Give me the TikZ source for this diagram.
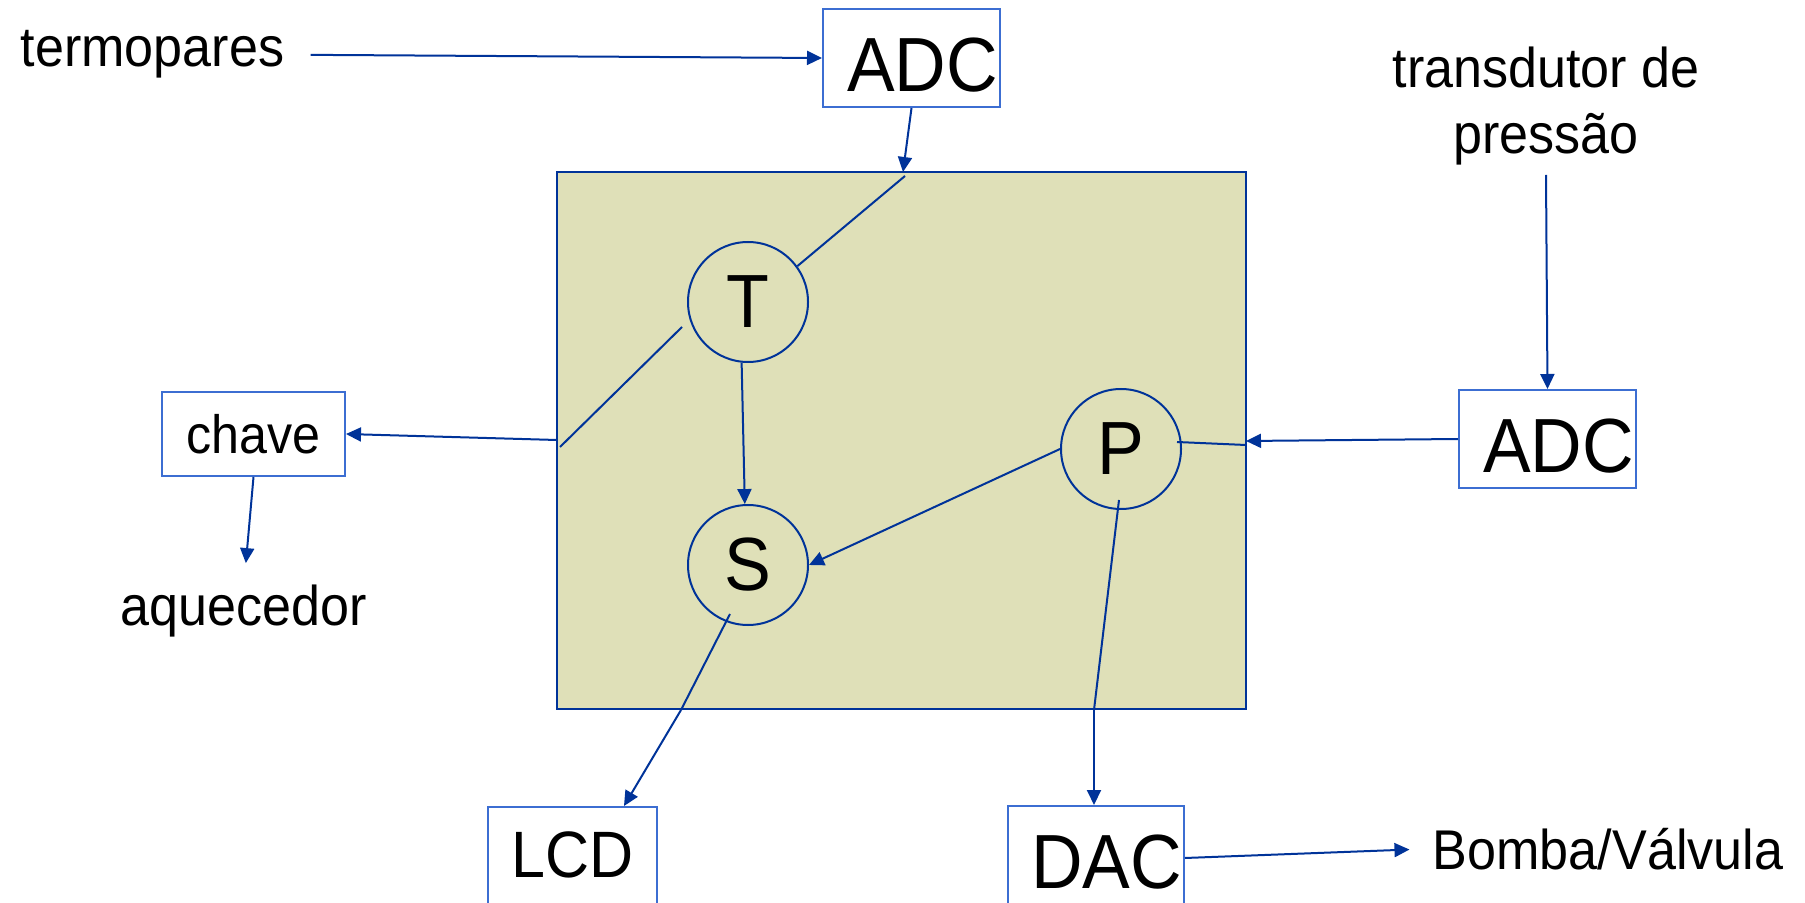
\documentclass[tikz,border=0pt]{standalone}
\usepackage{fontspec}
\setmainfont[FakeStretch=0.93]{Liberation Sans}
\usetikzlibrary{arrows.meta}
\definecolor{lineblue}{RGB}{0,51,153}
\definecolor{boxblue}{RGB}{60,110,210}
\definecolor{cpufill}{RGB}{223,224,184}
\begin{document}
\begin{tikzpicture}[x=0.5pt,y=-0.5pt,
  conn/.style={draw=lineblue, line width=1pt},
  arr/.style={conn, -{Triangle[length=7.5pt,width=7pt]}},
  lbl/.style={inner sep=0pt, font=\fontsize{28}{28.5}\selectfont},
  adcbox/.style={draw=boxblue, line width=1pt, fill=white, font=\fontsize{38.4}{40}\selectfont,
     text width=86.5pt, align=right, inner xsep=1pt, inner ysep=0pt,
     minimum height=49pt, text height=34pt, text depth=0pt},
  dacbox/.style={adcbox, text width=86pt, minimum height=52pt, text height=30pt},
  lcdbox/.style={draw=boxblue, line width=1pt, fill=white, font=\fontsize{32.8}{36}\selectfont,
     minimum width=84.5pt, minimum height=52pt, text depth=4.5pt, inner sep=0pt},
  chavebox/.style={draw=boxblue, line width=1pt, fill=white, font=\fontsize{27}{30}\selectfont,
     minimum width=91.5pt, minimum height=42pt, inner sep=0pt},
  state/.style={circle, draw=lineblue, line width=1pt, minimum size=60pt, inner sep=0pt,
     font=\fontsize{37.7}{40}\selectfont},
  cpu/.style={draw=lineblue, line width=1.2pt, fill=cpufill, minimum width=344.5pt,
     minimum height=268.5pt, inner sep=0pt}]
\useasboundingbox (0,0) rectangle (1805,903);
\clip (0,0) rectangle (1805,903);

% central block and states
\node[cpu] (cpu) at (901.5,440.5) {};
\node[state] (T) at (748,302) {T};
\node[state] (S) at (748,565) {S};
\node[state] (P) at (1121,449) {P};

% outer nodes
\node[lbl, anchor=base] (termo) at (152.5,67) {termopares};
\node[adcbox] (adc1) at (911.5,58) {ADC};
\node[adcbox] (adc2) at (1547.5,439) {ADC};
\node[lbl, anchor=north, align=center] (trans) at (1546,47) {transdutor de\\[4.5pt]pressão};
\node[chavebox] (chave) at (253.5,434) {chave};
\node[lbl, anchor=base] (aq) at (244,625) {aquecedor};
\node[lcdbox] (lcd) at (572.5,859) {LCD};
\node[dacbox] (dac) at (1096,858) {DAC};
\node[lbl, anchor=base] (bomba) at (1608,869) {Bomba/Válvula};

% free end points
\coordinate (gIn1) at (903,172);
\coordinate (gT1) at (905,176);
\coordinate (a1) at (682,327);
\coordinate (a2) at (560,447);
\coordinate (gL) at (557,440);
\coordinate (gR) at (1246,441);
\coordinate (gR2) at (1246,445);
\coordinate (pIn) at (1177,442);
\coordinate (pA) at (1119,500);
\coordinate (pB) at (1094,710);
\coordinate (sA) at (730,614);
\coordinate (sB) at (681,710);
\coordinate (tTop) at (1546,175);

% connectors
\draw[arr, shorten <=13pt] (termo.east) -- (adc1.west);
\draw[arr] (adc1.south) -- (gIn1);
\draw[conn] (gT1) -- (T.36);
\draw[conn] (a1) -- (a2);
\draw[arr] (gL) -- (chave.east);
\draw[arr, shorten >=10.5pt] (chave.south) -- (aq.north);
\draw[arr] (T.264) -- (S.93);
\draw[arr] (P.west) -- (S.east);
\draw[arr] (adc2.west) -- (gR);
\draw[conn] (gR2) -- (pIn);
\draw[arr] (tTop) -- (adc2.north);
\draw[conn] (pA) -- (pB);
\draw[arr] (pB) -- (pB |- dac.north);
\draw[conn] (sA) -- (sB);
\draw[arr] (sB) -- ([xshift=-17pt]lcd.north east);
\draw[arr, shorten >=11.5pt] (dac.east) -- (bomba.west);
\end{tikzpicture}
\end{document}
